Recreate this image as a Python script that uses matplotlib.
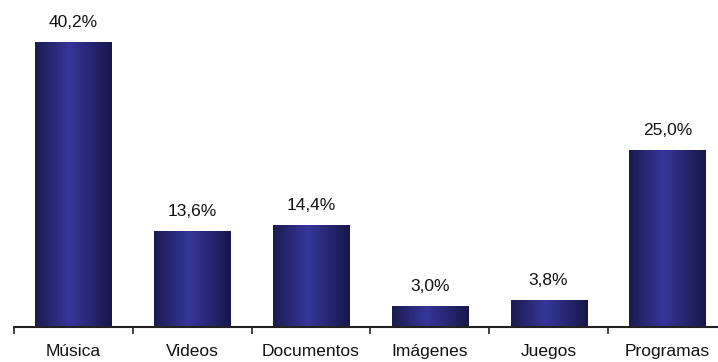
import numpy as np
import matplotlib
matplotlib.use('Agg')
import matplotlib.pyplot as plt
from matplotlib.colors import LinearSegmentedColormap

plt.rcParams['font.family'] = ['Liberation Sans', 'DejaVu Sans']

# Data
categories = ['Música', 'Videos', 'Documentos', 'Imágenes', 'Juegos', 'Programas']
values = [40.2, 13.6, 14.4, 3.0, 3.8, 25.0]
labels = ['40,2%', '13,6%', '14,4%', '3,0%', '3,8%', '25,0%']

W, H = 718, 362
fig = plt.figure(figsize=(W / 100, H / 100), dpi=100)

# axes is wider than the figure on the right, like the original crop
cat_w = 118.8
ax = fig.add_axes([14 / W, 35 / H, 6 * cat_w / W, 319 / H])
ax.set_xlim(-0.5, len(categories) - 0.5)
ax.set_ylim(0, 45)

# horizontal shading of the bars: dark edges, lighter middle
shade = LinearSegmentedColormap.from_list(
    'bar', [(0.0, '#1b1b4f'), (0.45, '#36369b'), (1.0, '#17174a')])
grad = np.linspace(0, 1, 256).reshape(1, -1)

x = np.arange(len(categories))
bars = ax.bar(x, values, width=0.64, color='none', edgecolor='none')
for b in bars:
    x0, w, h = b.get_x(), b.get_width(), b.get_height()
    im = ax.imshow(grad, cmap=shade, aspect='auto', extent=[x0, x0 + w, 0, h],
                   interpolation='bicubic', zorder=2)
    im.set_clip_path(b)

for xi, v, lab in zip(x, values, labels):
    ax.annotate(lab, (xi, v), xytext=(0, 10.5), textcoords='offset points',
                ha='center', va='baseline', fontsize=12.5, color='#111111')

ax.set_xlim(-0.5, len(categories) - 0.5)
ax.set_ylim(0, 45)

for side in ['top', 'right', 'left']:
    ax.spines[side].set_visible(False)
ax.spines['bottom'].set_color('#222222')
ax.spines['bottom'].set_linewidth(1.5)
ax.set_yticks([])

ax.set_xticks(x)
ax.set_xticklabels(categories, fontsize=12.5, color='#111111')
ax.tick_params(axis='x', which='major', length=0, pad=12.5)
ax.set_xticks(np.arange(-0.5, len(categories)), minor=True)
ax.tick_params(axis='x', which='minor', length=5, width=1.2, color='#222222',
               direction='out')

fig.savefig('out.png', dpi=100)
